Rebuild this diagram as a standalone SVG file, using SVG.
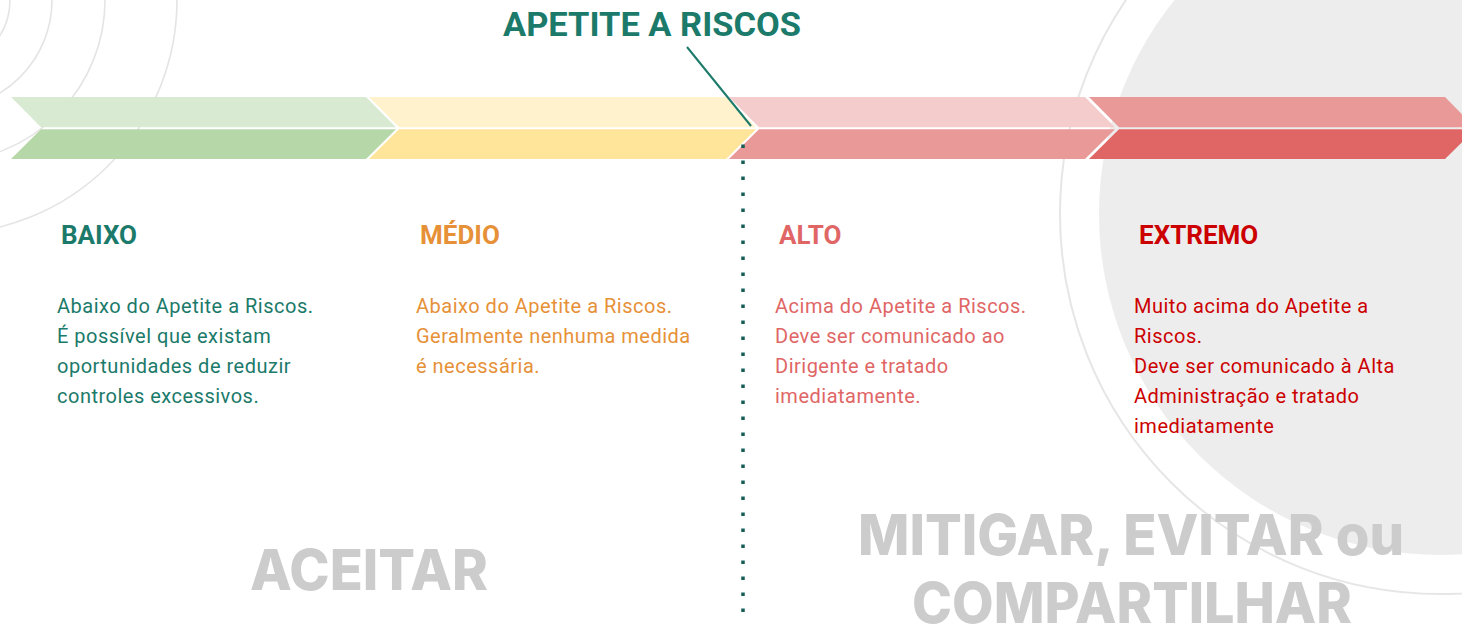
<svg xmlns="http://www.w3.org/2000/svg" width="1462" height="624" viewBox="0 0 1462 624">
<style>
.arc{fill:none;stroke:#e4e4e4;stroke-width:1.6}
.head{font-family:Roboto,"Liberation Sans",sans-serif;font-weight:700;font-size:26px}
.body{font-family:Roboto,"Liberation Sans",sans-serif;font-weight:400;font-size:20px;letter-spacing:0.5px}
.big{font-family:Inter,"Liberation Sans",sans-serif;font-weight:800;font-size:56px;fill:#cccccc}
.teal{fill:#1b7a6a}
.orange{fill:#e69138}
.pink{fill:#e06666}
.red{fill:#cc0000}
</style>
<rect width="1462" height="624" fill="#ffffff"/>
<g id="background">
<circle class="arc" cx="-57" cy="0" r="67"/>
<circle class="arc" cx="-57" cy="0" r="109"/>
<circle class="arc" cx="-57" cy="0" r="162"/>
<circle class="arc" cx="-57" cy="0" r="234"/>
<circle cx="1440" cy="214" r="341" fill="#ededed"/>
<circle cx="1440" cy="214" r="380" fill="none" stroke="#e6e6e6" stroke-width="2"/>
</g>
<g id="chevron-baixo">
<polygon points="11,97 366,97 396,127.3 41,127.3" fill="#d9ead3"/>
<polygon points="41,129.3 396,129.3 366,159 11,159" fill="#b6d7a8"/>
</g>
<g id="chevron-medio">
<polygon points="369,97 726,97 756,127.3 399,127.3" fill="#fff2cc"/>
<polygon points="399,129.3 756,129.3 726,159 369,159" fill="#ffe599"/>
</g>
<g id="chevron-alto">
<polygon points="729,97 1085,97 1115,127.3 759,127.3" fill="#f4cccc"/>
<polygon points="759,129.3 1115,129.3 1085,159 729,159" fill="#ea9999"/>
</g>
<g id="chevron-extremo">
<polygon points="1089,97 1445,97 1475,127.3 1119,127.3" fill="#ea9999"/>
<polygon points="1119,129.3 1475,129.3 1445,159 1089,159" fill="#e06666"/>
</g>
<g id="connectors">
<line x1="687" y1="47" x2="751" y2="126" stroke="#1b7a6a" stroke-width="2"/>
<line x1="743" y1="144.5" x2="743" y2="614" stroke="#165e55" stroke-width="3.5" stroke-dasharray="3.5 12.5"/>
</g>
<g id="title">
<text x="652" y="36" text-anchor="middle" font-family="Roboto,'Liberation Sans',sans-serif" font-weight="700" font-size="33" fill="#1b7a6a" textLength="298" lengthAdjust="spacingAndGlyphs">APETITE A RISCOS</text>
</g>
<g id="baixo">
<text class="head teal" x="61" y="244">BAIXO</text>
<text class="body teal" x="57" y="313">Abaixo do Apetite a Riscos.</text>
<text class="body teal" x="57" y="343">É possível que existam</text>
<text class="body teal" x="57" y="373">oportunidades de reduzir</text>
<text class="body teal" x="57" y="403">controles excessivos.</text>
</g>
<g id="medio">
<text class="head orange" x="420" y="244">MÉDIO</text>
<text class="body orange" x="416" y="313">Abaixo do Apetite a Riscos.</text>
<text class="body orange" x="416" y="343">Geralmente nenhuma medida</text>
<text class="body orange" x="416" y="373">é necessária.</text>
</g>
<g id="alto">
<text class="head pink" x="779" y="244">ALTO</text>
<text class="body pink" x="775" y="313">Acima do Apetite a Riscos.</text>
<text class="body pink" x="775" y="343">Deve ser comunicado ao</text>
<text class="body pink" x="775" y="373">Dirigente e tratado</text>
<text class="body pink" x="775" y="403">imediatamente.</text>
</g>
<g id="extremo">
<text class="head red" x="1139" y="244">EXTREMO</text>
<text class="body red" x="1134" y="313">Muito acima do Apetite a</text>
<text class="body red" x="1134" y="343">Riscos.</text>
<text class="body red" x="1134" y="373">Deve ser comunicado à Alta</text>
<text class="body red" x="1134" y="403">Administração e tratado</text>
<text class="body red" x="1134" y="433">imediatamente</text>
</g>
<g id="aceitar">
<text class="big" x="250" y="590" textLength="238" lengthAdjust="spacingAndGlyphs">ACEITAR</text>
</g>
<g id="mitigar">
<text class="big" x="858" y="555" textLength="546" lengthAdjust="spacingAndGlyphs">MITIGAR, EVITAR ou</text>
<text class="big" x="912" y="623" textLength="440" lengthAdjust="spacingAndGlyphs">COMPARTILHAR</text>
</g>
</svg>
